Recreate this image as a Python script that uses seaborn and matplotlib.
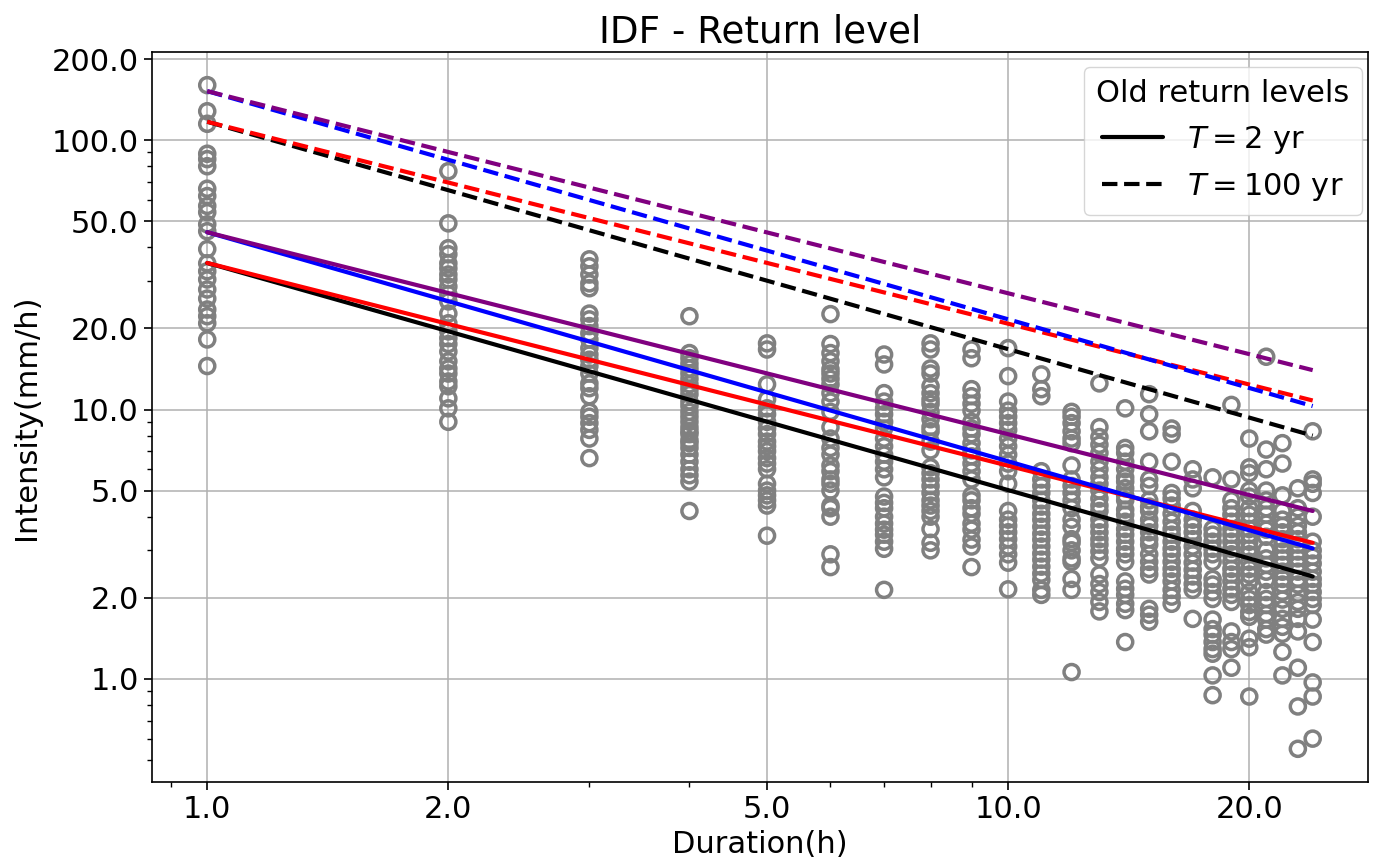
import numpy as np
import pandas as pd
import matplotlib
matplotlib.use("Agg")
import matplotlib.pyplot as plt
import seaborn as sns
from matplotlib.ticker import FixedLocator, FormatStrFormatter, LogLocator, NullFormatter
from matplotlib.lines import Line2D

# ---- observed annual-maximum intensities (mm/h) per duration (h) ----
i01 = [160, 128, 115, 89, 85, 80, 66, 62, 57, 54, 48.7, 45.9, 39.4, 34.9, 32.6, 30.4, 27.9, 25.8, 23.5, 22.2, 20.9, 18.2, 14.5]
i02 = [76.7, 49.1, 39.7, 37.7, 34.9, 33.4, 31.7, 30.4, 28.6, 26.8, 25.2, 22.7, 20.9, 19.5, 18.4, 17.5, 16.4, 15.1, 14.2, 13.6, 12.7, 12.2, 11.0, 10.1, 9.0]
i03 = [36.1, 34.0, 31.7, 29.4, 28.2, 22.7, 21.6, 20.4, 19.2, 18.2, 16.9, 16.0, 15.3, 14.5, 13.6, 12.5, 12.0, 11.2, 9.8, 9.4, 8.9, 8.4, 7.8, 6.6]
i04 = [22.2, 16.2, 15.5, 14.8, 14.2, 13.6, 13.0, 12.4, 11.9, 11.4, 10.7, 10.3, 9.8, 9.4, 9.0, 8.6, 8.3, 8.1, 7.7, 7.5, 7.2, 6.8, 6.4, 6.0, 5.7, 5.4, 4.2]
i05 = [17.6, 16.7, 12.4, 10.9, 10.1, 9.6, 9.0, 8.5, 8.1, 7.6, 7.3, 7.0, 6.6, 6.3, 6.0, 5.3, 5.0, 4.8, 4.6, 4.4, 3.4]
i06 = [22.6, 17.5, 16.2, 15.1, 14.1, 13.6, 13.0, 12.4, 11.5, 10.7, 9.8, 8.6, 7.8, 7.2, 6.8, 6.2, 5.9, 5.5, 5.3, 5.0, 4.4, 4.3, 4.0, 2.9, 2.6]
i07 = [16.0, 14.7, 11.5, 10.7, 10.1, 9.6, 9.0, 8.5, 7.8, 7.3, 6.8, 6.4, 6.0, 5.6, 4.75, 4.5, 4.3, 4.0, 3.77, 3.58, 3.43, 3.23, 3.04, 2.14]
i08 = [17.6, 16.7, 14.2, 13.6, 12.2, 11.5, 10.9, 10.5, 9.8, 9.2, 8.6, 8.3, 7.6, 7.05, 6.1, 5.8, 5.5, 5.2, 4.9, 4.6, 4.4, 4.2, 4.0, 3.6, 3.2, 3.0]
i09 = [16.7, 15.5, 11.9, 11.2, 10.5, 9.9, 9.0, 8.5, 8.1, 7.5, 7.05, 6.7, 6.3, 5.9, 5.5, 4.8, 4.6, 4.3, 4.1, 3.77, 3.58, 3.29, 3.1, 2.6]
i10 = [16.9, 13.3, 10.7, 9.9, 9.4, 8.9, 8.4, 7.8, 7.3, 6.8, 6.3, 5.9, 5.3, 4.2, 3.9, 3.7, 3.5, 3.3, 3.1, 2.9, 2.7, 2.15]
i11 = [13.5, 11.9, 11.2, 5.9, 5.5, 5.2, 4.9, 4.6, 4.36, 4.1, 3.9, 3.67, 3.46, 3.29, 3.1, 2.92, 2.77, 2.61, 2.46, 2.33, 2.14, 2.05]
i12 = [9.8, 9.4, 8.9, 8.3, 7.8, 7.5, 6.2, 5.5, 5.2, 4.9, 4.6, 4.3, 3.9, 3.67, 3.3, 3.2, 3.0, 2.8, 2.72, 2.35, 2.14, 1.06]
i13 = [12.5, 8.6, 7.9, 7.4, 6.9, 6.4, 6.0, 5.6, 5.3, 5.0, 4.67, 4.4, 4.2, 3.9, 3.7, 3.5, 3.3, 3.15, 2.97, 2.8, 2.44, 2.25, 2.1, 1.93, 1.78]
i14 = [10.1, 7.2, 6.9, 6.4, 6.0, 5.6, 5.4, 5.1, 4.8, 4.6, 4.25, 4.07, 3.83, 3.6, 3.43, 3.23, 3.04, 2.9, 2.72, 2.3, 2.16, 2.05, 1.9, 1.8, 1.37]
i15 = [11.4, 9.6, 8.3, 6.4, 5.5, 5.2, 4.6, 4.36, 4.2, 3.9, 3.7, 3.5, 3.3, 3.15, 2.9, 2.72, 2.56, 2.44, 1.82, 1.73, 1.63]
i16 = [8.5, 8.1, 6.4, 4.9, 4.67, 4.4, 4.1, 3.83, 3.6, 3.43, 3.23, 3.04, 2.9, 2.72, 2.56, 2.44, 2.3, 2.14, 2.02, 1.9]
i17 = [6.0, 5.5, 5.1, 4.2, 3.9, 3.7, 3.5, 3.3, 3.1, 2.9, 2.7, 2.54, 2.4, 2.25, 2.14, 1.67]
i18 = [5.6, 3.6, 3.43, 3.23, 3.04, 2.9, 2.72, 2.35, 2.24, 2.1, 1.98, 1.66, 1.53, 1.46, 1.37, 1.29, 1.24, 1.03, 0.87]
i19 = [10.4, 5.5, 4.6, 4.3, 4.07, 3.83, 3.6, 3.43, 3.23, 3.04, 2.9, 2.72, 2.56, 2.44, 2.3, 2.16, 2.05, 1.93, 1.5, 1.37, 1.29, 1.1]
i20 = [7.8, 6.1, 5.8, 5.0, 4.75, 4.3, 4.07, 3.83, 3.6, 3.43, 3.23, 3.04, 2.9, 2.72, 2.56, 2.44, 2.3, 2.1, 1.98, 1.88, 1.77, 1.7, 1.41, 1.31, 0.86]
i21 = [15.7, 7.1, 6.0, 5.0, 4.6, 4.3, 4.07, 3.77, 3.58, 3.37, 3.0, 2.8, 2.65, 2.5, 2.33, 2.1, 1.98, 1.88, 1.74, 1.66, 1.53, 1.46]
i22 = [7.5, 6.3, 4.8, 4.2, 3.9, 3.7, 3.5, 3.3, 3.15, 2.97, 2.8, 2.65, 2.5, 2.35, 2.24, 2.1, 1.97, 1.82, 1.67, 1.56, 1.47, 1.26, 1.03]
i23 = [5.1, 4.3, 4.0, 3.7, 3.5, 3.3, 3.15, 2.97, 2.8, 2.65, 2.5, 2.35, 2.24, 2.07, 1.93, 1.82, 1.67, 1.5, 1.1, 0.79, 0.55]
i24 = [8.3, 5.5, 5.3, 4.9, 4.0, 3.23, 3.0, 2.84, 2.68, 2.5, 2.35, 2.24, 2.1, 1.98, 1.88, 1.66, 1.37, 0.97, 0.86, 0.6]

durations = list(range(1, 25))
observed = [i01, i02, i03, i04, i05, i06, i07, i08, i09, i10, i11, i12,
            i13, i14, i15, i16, i17, i18, i19, i20, i21, i22, i23, i24]

# ---- return-level curves (values at d = 1 h and d = 24 h) ----
line_durations = [1, 24]
black_t2 = [35.0, 2.4]
red_t2 = [35.0, 3.2]
blue_t2 = [45.5, 3.05]
purple_t2 = [45.5, 4.2]
black_t100 = [117.0, 8.0]
red_t100 = [117.0, 10.8]
blue_t100 = [152.0, 10.3]
purple_t100 = [152.0, 14.0]

x_ticks = [1, 2, 5, 10, 20]
y_ticks = [1, 2, 5, 10, 20, 50, 100, 200]

# ---- build table ----
obs_df = pd.DataFrame({
    "duration": [d for d, vals in zip(durations, observed) for _ in vals],
    "intensity": [v for vals in observed for v in vals],
})

sns.set_style("white")
plt.rcParams["font.family"] = ["DejaVu Sans"]
plt.rcParams["mathtext.fontset"] = "dejavusans"
plt.rcParams["text.color"] = "black"
plt.rcParams["axes.labelcolor"] = "black"
plt.rcParams["xtick.color"] = "black"
plt.rcParams["ytick.color"] = "black"

FS = 22

fig = plt.figure(figsize=(13.84, 8.66), dpi=100)
ax = fig.add_axes([0.1098, 0.097, 0.8786, 0.843])

sns.scatterplot(data=obs_df, x="duration", y="intensity", ax=ax,
                marker="o", s=118, color="gray", facecolor="none",
                edgecolor="gray", linewidth=2.5, zorder=3, legend=False)

curves = [
    (black_t2, "black", "-"), (red_t2, "red", "-"),
    (blue_t2, "blue", "-"), (purple_t2, "purple", "-"),
    (black_t100, "black", "--"), (red_t100, "red", "--"),
    (blue_t100, "blue", "--"), (purple_t100, "purple", "--"),
]
for vals, col, ls in curves:
    sns.lineplot(x=line_durations, y=vals, ax=ax, color=col, linestyle=ls,
                 linewidth=3.0, zorder=4, legend=False)

ax.set_xscale("log")
ax.set_yscale("log")
ax.margins(0.05)

ax.xaxis.set_major_locator(FixedLocator(x_ticks))
ax.xaxis.set_major_formatter(FormatStrFormatter("%.1f"))
ax.yaxis.set_major_locator(FixedLocator(y_ticks))
ax.yaxis.set_major_formatter(FormatStrFormatter("%.1f"))
ax.xaxis.set_minor_locator(LogLocator(base=10, subs=np.arange(2, 10)))
ax.yaxis.set_minor_locator(LogLocator(base=10, subs=np.arange(2, 10)))
ax.xaxis.set_minor_formatter(NullFormatter())
ax.yaxis.set_minor_formatter(NullFormatter())

ax.grid(True, which="major", color="#b0b0b0", linewidth=1.1)
ax.set_axisbelow(True)
ax.tick_params(which="major", direction="out", length=6, width=1.2,
               labelsize=FS, colors="black", bottom=True, left=True)
ax.tick_params(which="minor", direction="out", length=3.5, width=1.0,
               bottom=True, left=True)
for sp in ax.spines.values():
    sp.set_color("black")
    sp.set_linewidth(1.2)

ax.set_xlabel("Duration(h)", fontsize=FS, labelpad=4)
ax.set_ylabel("Intensity(mm/h)", fontsize=FS, labelpad=8)
ax.set_title("IDF - Return level", fontsize=FS * 1.22, pad=7)

handles = [Line2D([], [], color="black", lw=3.0, ls="-"),
           Line2D([], [], color="black", lw=3.0, ls="--")]
leg = ax.legend(handles, [r"$T = 2$ yr", r"$T = 100$ yr"],
                title="Old return levels", loc="upper right",
                bbox_to_anchor=(1.0075, 1.0),
                fontsize=FS, title_fontsize=FS, frameon=True,
                fancybox=True, framealpha=0.8, edgecolor="#cccccc")

fig.savefig("out.png", dpi=100)
